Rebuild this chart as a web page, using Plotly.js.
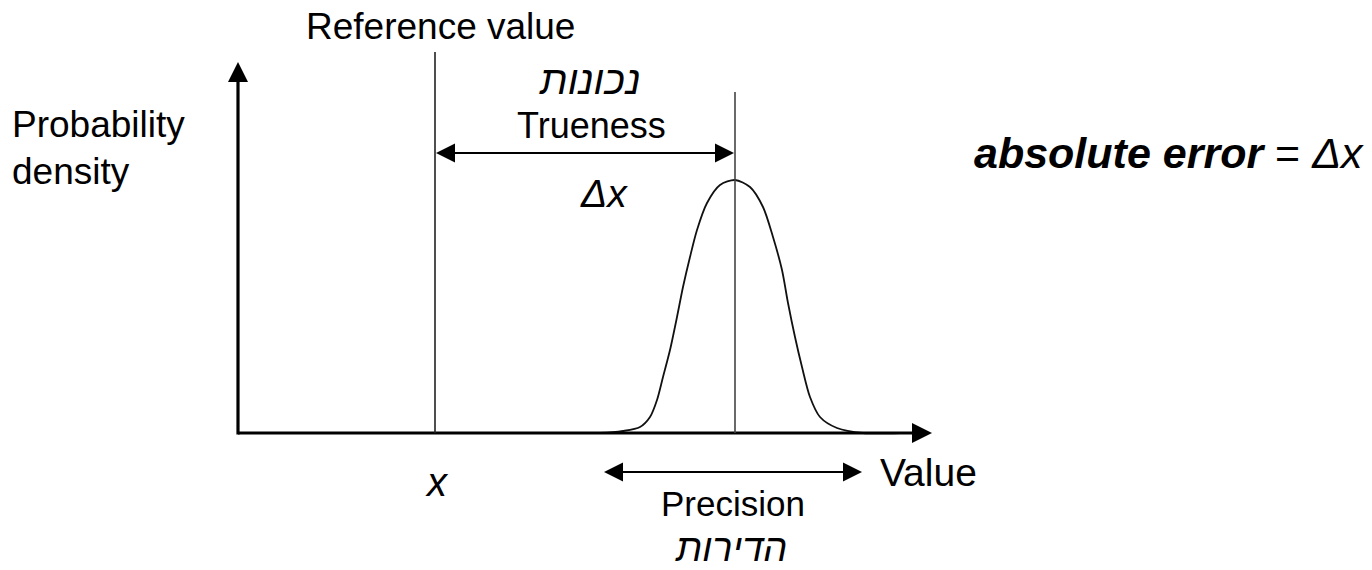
<!DOCTYPE html>
<html>
<head>
<meta charset="utf-8">
<script src="https://cdn.plot.ly/plotly-3.0.1.min.js"></script>
<style>html,body{margin:0;padding:0;background:#fff;}#chart{width:1372px;height:570px;}</style>
</head>
<body>
<div id="chart"></div>
<script>
// Probability density curve (x = value, y = density height)
const curveX = [560, 600, 623, 640, 650, 657, 663, 670, 677, 683, 690, 697, 707, 720, 735,
                750, 763, 773, 782, 788, 795, 802, 810, 820, 837, 863, 900];
const curveY = [0, 0, 2, 6, 16, 33, 56, 83, 116, 146, 176, 203, 230, 248, 253,
                246, 226, 196, 163, 130, 96, 66, 36, 16, 5, 0, 0];

// Key values
const referenceValue = 435;   // reference value x
const measuredMean = 735;     // mean of the distribution
const referenceLineTop = 381;
const meanLineTop = 341;
const axisOrigin = [238, 0];
const xAxisEnd = 932;
const yAxisEnd = 371;
const truenessLevel = 280;
const precisionLevel = -39;
const precisionRange = [604, 862];

// Text labels
const labels = {
  reference: 'Reference value',
  truenessHe: '<i>נכונות</i>',
  trueness: 'Trueness',
  delta: '<i>Δx</i>',
  probability: 'Probability',
  density: 'density',
  formula: '<b><i>absolute error</i></b> = <i>Δx</i>',
  x: '<i>x</i>',
  value: 'Value',
  precision: 'Precision',
  precisionHe: '<i>הדירות</i>'
};

const FONT = 'Liberation Sans, Arial, sans-serif';
const HL = 20, HW = 10;   // axis arrow-head length, half-width
const AL = 19, AW = 9.5;  // dimension arrow-head length, half-width

function head(tipX, tipY, dir, len, hw) {
  if (dir === 'r') return `M${tipX},${tipY} L${tipX-len},${tipY+hw} L${tipX-len},${tipY-hw} Z`;
  if (dir === 'l') return `M${tipX},${tipY} L${tipX+len},${tipY+hw} L${tipX+len},${tipY-hw} Z`;
  return `M${tipX},${tipY} L${tipX-hw},${tipY-len} L${tipX+hw},${tipY-len} Z`;
}
function tri(path) {
  return {type:'path', xref:'x', yref:'y', path: path, fillcolor:'#000', line:{width:0}};
}
function seg(x0,y0,x1,y1,w,c) {
  return {type:'line', xref:'x', yref:'y', x0:x0, y0:y0, x1:x1, y1:y1, line:{color:c||'#000', width:w}};
}

const shapes = [
  seg(axisOrigin[0], axisOrigin[1], xAxisEnd - HL + 2, axisOrigin[1], 3.2),
  seg(axisOrigin[0], axisOrigin[1] - 1.5, axisOrigin[0], yAxisEnd - HL + 2, 3.2),
  tri(head(xAxisEnd, axisOrigin[1], 'r', HL, HW)),
  tri(head(axisOrigin[0], yAxisEnd, 'u', HL, HW)),
  seg(referenceValue, 0, referenceValue, referenceLineTop, 1.6, '#222'),
  seg(measuredMean, 0, measuredMean, meanLineTop, 1.6, '#444'),
  seg(referenceValue + AL - 2, truenessLevel, measuredMean - AL + 2, truenessLevel, 2),
  tri(head(referenceValue + 1, truenessLevel, 'l', AL, AW)),
  tri(head(measuredMean - 1, truenessLevel, 'r', AL, AW)),
  seg(precisionRange[0] + AL - 2, precisionLevel, precisionRange[1] - AL + 2, precisionLevel, 2),
  tri(head(precisionRange[0], precisionLevel, 'l', AL, AW)),
  tri(head(precisionRange[1], precisionLevel, 'r', AL, AW))
];

function ann(text, x, y, size, xanchor) {
  return {text: text, x: x, y: y, xref:'x', yref:'y', showarrow:false,
          xanchor: xanchor || 'center', yanchor:'middle',
          font:{family: FONT, size: size, color:'#000'}};
}
const annotations = [
  ann(labels.reference, 440, 433 - 26, 37),
  ann(labels.truenessHe, 590, 433 - 80, 40),
  ann(labels.trueness, 591, 433 - 125, 36),
  ann(labels.delta, 604, 433 - 193, 39),
  ann(labels.probability, 10, 433 - 124, 37, 'left'),
  ann(labels.density, 10, 433 - 171, 37, 'left'),
  ann(labels.formula, 1366, 433 - 153, 43, 'right'),
  ann(labels.x, 437, 433 - 482, 40),
  ann(labels.value, 878, 433 - 472, 39, 'left'),
  ann(labels.precision, 733, 433 - 503, 35),
  ann(labels.precisionHe, 731, 433 - 548, 38)
];

const trace = {
  x: curveX, y: curveY, type:'scatter', mode:'lines',
  line:{color:'#111', width:1.8, shape:'spline', smoothing:0.8},
  hoverinfo:'skip'
};

const layout = {
  width:1372, height:570, autosize:false,
  margin:{l:0, r:0, t:0, b:0, pad:0},
  paper_bgcolor:'#fff', plot_bgcolor:'#fff',
  showlegend:false,
  xaxis:{range:[0,1372], visible:false, fixedrange:true},
  yaxis:{range:[-137,433], visible:false, fixedrange:true},
  shapes: shapes,
  annotations: annotations
};

Plotly.newPlot('chart', [trace], layout, {displayModeBar:false, staticPlot:true});
</script>
</body>
</html>
